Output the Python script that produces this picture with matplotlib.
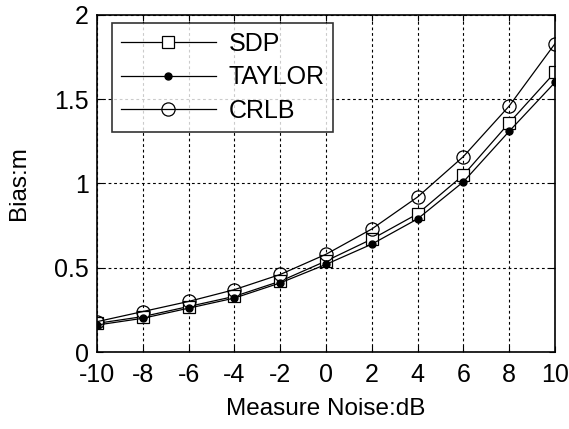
import matplotlib
matplotlib.use("Agg")
import matplotlib.pyplot as plt

plt.rcParams['font.family'] = ['Liberation Sans', 'DejaVu Sans']
plt.rcParams['axes.unicode_minus'] = False

noise_db = [-10, -8, -6, -4, -2, 0, 2, 4, 6, 8, 10]
sdp = [0.17, 0.21, 0.27, 0.33, 0.42, 0.54, 0.67, 0.82, 1.05, 1.36, 1.66]
taylor = [0.16, 0.20, 0.26, 0.32, 0.41, 0.52, 0.64, 0.79, 1.01, 1.31, 1.60]
crlb = [0.18, 0.24, 0.30, 0.37, 0.46, 0.58, 0.73, 0.92, 1.16, 1.46, 1.83]

xticks = [-10, -8, -6, -4, -2, 0, 2, 4, 6, 8, 10]
yticks = [0, 0.5, 1, 1.5, 2]
yticklabels = ['0', '0.5', '1', '1.5', '2']

fig = plt.figure(figsize=(5.69, 4.29), dpi=100)
ax = fig.add_axes([97 / 569, 1 - 352 / 429, (555 - 97) / 569, (352 - 15) / 429])

lw = 0.9
ax.plot(noise_db, sdp, color='black', lw=lw, marker='s', ms=9,
        mfc='white', mec='black', mew=0.9, label='SDP')
ax.plot(noise_db, taylor, color='black', lw=lw, marker='o', ms=5,
        mfc='black', mec='black', label='TAYLOR')
ax.plot(noise_db, crlb, color='black', lw=lw, marker='o', ms=9.5,
        mfc='none', mec='black', mew=0.9, label='CRLB')

ax.set_xlim(-10, 10)
ax.set_ylim(0, 2)
ax.set_xticks(xticks)
ax.set_yticks(yticks)
ax.set_yticklabels(yticklabels)
ax.grid(True, color='black', linestyle=(0, (2.5, 2.5)), linewidth=0.8)
ax.tick_params(direction='in', labelsize=18, length=4, top=True, right=True)
ax.tick_params(axis='x', pad=8)
ax.tick_params(axis='y', pad=6)
for s in ax.spines.values():
    s.set_linewidth(1.2)

ax.set_xlabel('Measure Noise:dB', fontsize=17.5, labelpad=8)
ax.set_ylabel('Bias:m', fontsize=17.5, labelpad=17)

leg = ax.legend(loc='upper left', bbox_to_anchor=(0.033, 0.976), fontsize=18,
                frameon=True, fancybox=False, edgecolor='black',
                handlelength=3.8, borderpad=0.35, labelspacing=0.38,
                handletextpad=0.5, borderaxespad=0)
leg.get_frame().set_linewidth(1.2)

fig.savefig('out.png', dpi=100, facecolor='white')
